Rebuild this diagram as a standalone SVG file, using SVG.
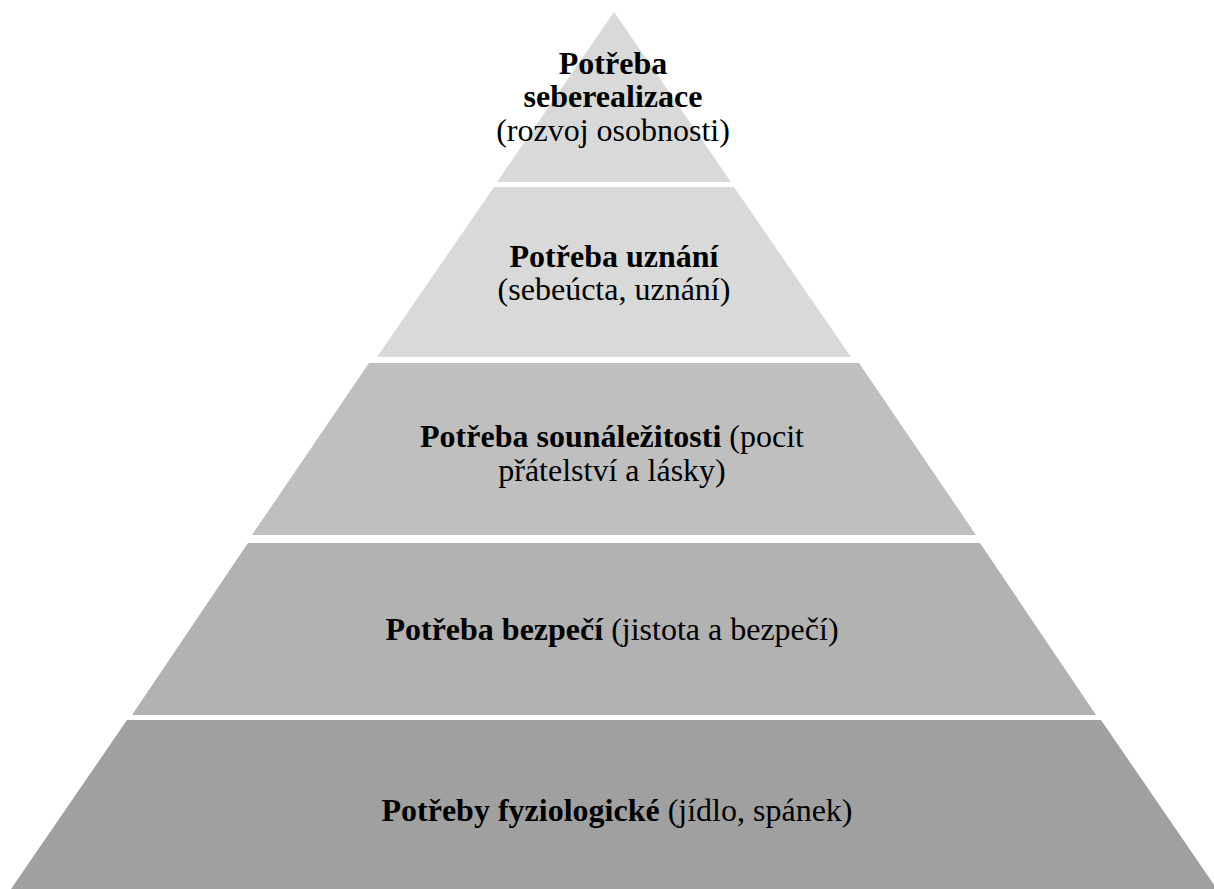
<svg xmlns="http://www.w3.org/2000/svg" width="1214" height="889" viewBox="0 0 1214 889">
<style>
text{font-family:"Liberation Serif","Times New Roman",serif;font-size:32px;fill:#000;text-anchor:middle}
.b{font-weight:bold}
</style>
<rect width="1214" height="889" fill="#fff"/>
<g id="level1">
<polygon points="614,12 731,182 497,182" fill="#d9d9d9"/>
<text x="613" y="74" class="b">Potřeba</text>
<text x="613" y="107" class="b">seberealizace</text>
<text x="613" y="141">(rozvoj osobnosti)</text>
</g>
<g id="level2">
<polygon points="494,187 734,187 851,357 377,357" fill="#d9d9d9"/>
<text x="614" y="267" class="b">Potřeba uznání</text>
<text x="614" y="300">(sebeúcta, uznání)</text>
</g>
<g id="level3">
<polygon points="369,363 859,363 976,535 252,535" fill="#bfbfbf"/>
<text x="612" y="447"><tspan class="b">Potřeba sounáležitosti</tspan> (pocit</text>
<text x="612" y="481">přátelství a lásky)</text>
</g>
<g id="level4">
<polygon points="248,543 980,543 1096,715 132,715" fill="#b2b2b2"/>
<text x="612" y="640"><tspan class="b">Potřeba bezpečí</tspan> (jistota a bezpečí)</text>
</g>
<g id="level5">
<polygon points="127,720 1101,720 1217,889 11,889" fill="#a0a0a0"/>
<text x="617" y="821"><tspan class="b">Potřeby fyziologické</tspan> (jídlo, spánek)</text>
</g>
</svg>
